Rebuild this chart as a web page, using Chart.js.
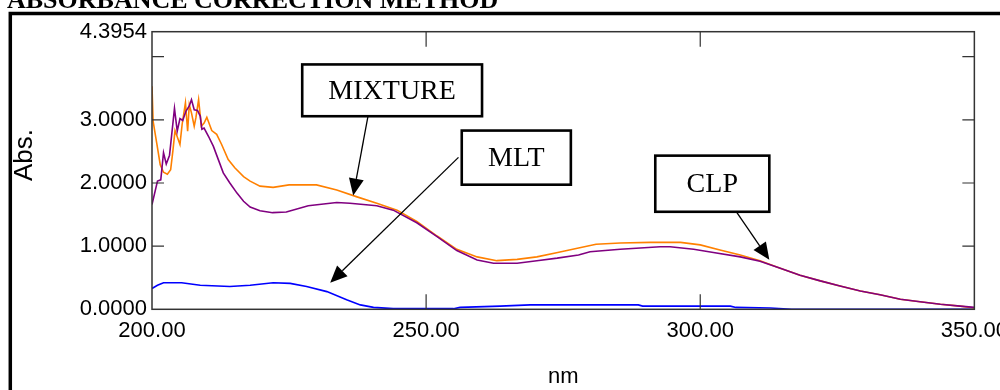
<!DOCTYPE html>
<html>
<head>
<meta charset="utf-8">
<script src="https://cdn.jsdelivr.net/npm/chart.js@4.4.1/dist/chart.umd.min.js"></script>
<style>
  html, body { margin: 0; padding: 0; background: #fff; overflow: hidden; }
  #wrap { width: 1000px; height: 390px; overflow: hidden; position: relative; }
  #spectra { position: absolute; left: 0; top: 0; }
</style>
</head>
<body>
<div id="wrap"><canvas id="spectra" width="1016" height="390"></canvas></div>
<script>
// overlay spectra: wavelength (nm) against absorbance
var mixNm = [200.0, 200.2, 200.9, 201.5, 202.1, 202.8, 203.4, 203.8, 204.2, 205.1, 205.5, 206.1, 206.5, 206.8,
  207.2, 207.7, 208.0, 208.5, 209.0, 209.5, 210.0, 210.9, 211.8, 212.7, 213.9, 215.1, 216.7, 217.9, 219.7,
  222.1, 225.0, 230.0, 233.7, 237.4, 241.0, 244.7, 248.3, 252.0, 255.6, 259.3, 262.9, 266.6, 270.2, 274.0,
  277.8, 281.0, 285.4, 290.9, 296.4, 300.0, 303.6, 307.3, 310.9, 314.6, 318.2, 321.9, 325.5, 329.2, 332.8,
  336.5, 340.1, 343.8, 347.4, 350.0];
var mixAbs = [3.53, 2.98, 2.61, 2.29, 2.17, 2.14, 2.21, 2.50, 2.83, 2.61, 2.93, 3.27, 2.82, 3.24,
  3.11, 2.90, 3.03, 3.32, 2.90, 2.95, 3.04, 2.83, 2.77, 2.61, 2.37, 2.24, 2.10, 2.03, 1.95,
  1.93, 1.97, 1.97, 1.89, 1.78, 1.68, 1.57, 1.39, 1.16, 0.95, 0.83, 0.77, 0.79, 0.83, 0.90,
  0.97, 1.03, 1.05, 1.06, 1.06, 1.02, 0.94, 0.86, 0.77, 0.65, 0.54, 0.45, 0.37, 0.29, 0.23,
  0.16, 0.12, 0.08, 0.05, 0.02];

var clpNm = [200.0, 201.0, 201.6, 202.1, 202.6, 203.2, 204.1, 204.6, 205.1, 205.6, 206.2, 206.8, 207.2, 207.7,
  208.3, 208.8, 209.1, 209.5, 210.3, 211.2, 212.1, 213.0, 214.2, 215.5, 216.7, 217.9, 219.7, 222.0, 224.5,
  228.5, 233.7, 236.1, 241.0, 244.0, 248.3, 252.0, 255.6, 259.3, 262.3, 266.6, 270.2, 273.9, 277.8, 279.9,
  285.4, 292.7, 294.5, 298.8, 302.4, 307.3, 310.9, 314.6, 318.2, 321.9, 325.5, 329.2, 332.8, 336.5, 340.1,
  343.8, 347.4, 350.0];
var clpAbs = [1.66, 2.03, 2.05, 2.48, 2.30, 2.44, 3.18, 2.82, 3.02, 2.99, 3.14, 3.22, 3.32, 3.16,
  3.15, 3.06, 2.85, 2.87, 2.74, 2.58, 2.37, 2.16, 2.00, 1.84, 1.71, 1.62, 1.56, 1.53, 1.54,
  1.64, 1.69, 1.68, 1.64, 1.57, 1.37, 1.15, 0.93, 0.78, 0.73, 0.73, 0.77, 0.81, 0.86, 0.91,
  0.95, 0.99, 0.99, 0.95, 0.90, 0.83, 0.76, 0.65, 0.54, 0.45, 0.37, 0.29, 0.23, 0.16, 0.12,
  0.08, 0.05, 0.03];

var mltNm = [200.0, 201.0, 202.1, 205.4, 208.8, 214.2, 217.9, 222.1, 225.2, 228.2, 231.9, 235.5, 238.0,
  240.4, 244.0, 255.0, 256.2, 263.5, 269.0, 288.7, 289.5, 305.5, 306.5, 312.8, 316.7, 350.0];
var mltAbs = [0.33, 0.38, 0.42, 0.42, 0.38, 0.36, 0.38, 0.42, 0.41, 0.36, 0.28, 0.15, 0.07,
  0.03, 0.01, 0.01, 0.03, 0.05, 0.07, 0.07, 0.05, 0.05, 0.03, 0.02, 0.00, 0.00];

var xTicks = [200, 250, 300, 350];
var xTickLabels = ['200.00', '250.00', '300.00', '350.00'];
var yTicks = [0, 1, 2, 3, 4, 4.3954];
var yTickLabels = ['0.0000', '1.0000', '2.0000', '3.0000', '', '4.3954'];

// callout boxes, placed in axis units (nm, Abs.)
var callouts = [
  { text: 'MIXTURE', box: [227.4, 3.877, 260.2, 3.057], from: [239.4, 3.057], to: [236.7, 1.80] },
  { text: 'MLT', box: [256.5, 2.830, 276.4, 1.973], from: [255.9, 2.406], to: [232.5, 0.422] },
  { text: 'CLP', box: [291.8, 2.433, 312.6, 1.544], from: [306.6, 1.544], to: [312.6, 0.783] }
];

function pairs(xs, ys) {
  return xs.map(function (x, i) { return { x: x, y: ys[i] }; });
}

var sansFont = { family: "'Liberation Sans', Arial, sans-serif", size: 22 };

function drawArrow(ctx, x1, y1, x2, y2) {
  var dx = x2 - x1, dy = y2 - y1;
  var len = Math.sqrt(dx * dx + dy * dy);
  var ux = dx / len, uy = dy / len;
  var headLen = 17, headHalf = 7.5;
  var bx = x2 - ux * headLen, by = y2 - uy * headLen;
  ctx.beginPath();
  ctx.moveTo(x1, y1);
  ctx.lineTo(bx, by);
  ctx.lineWidth = 1.3;
  ctx.strokeStyle = '#000';
  ctx.stroke();
  ctx.beginPath();
  ctx.moveTo(x2, y2);
  ctx.lineTo(bx - uy * headHalf, by + ux * headHalf);
  ctx.lineTo(bx + uy * headHalf, by - ux * headHalf);
  ctx.closePath();
  ctx.fillStyle = '#000';
  ctx.fill();
}

var framePlugin = {
  id: 'frame',
  beforeDraw: function (chart) {
    var ctx = chart.ctx;
    ctx.save();
    ctx.fillStyle = '#000';
    ctx.font = "bold 26px 'Liberation Serif', 'Times New Roman', serif";
    ctx.textBaseline = 'alphabetic';
    ctx.fillText('ABSORBANCE CORRECTION METHOD', 7, 8);
    ctx.lineWidth = 3.5;
    ctx.strokeStyle = '#000';
    ctx.strokeRect(10.3, 13.5, 1400, 800);
    // y-axis title
    ctx.translate(25, 155);
    ctx.rotate(-Math.PI / 2);
    ctx.font = "26px 'Liberation Sans', Arial, sans-serif";
    ctx.textAlign = 'center';
    ctx.textBaseline = 'middle';
    ctx.fillText('Abs.', 0, 0);
    ctx.restore();
  },
  afterDraw: function (chart) {
    var ctx = chart.ctx, a = chart.chartArea;
    var xs = chart.scales.x, ys = chart.scales.y;
    ctx.save();
    // plot box
    ctx.strokeStyle = '#333';
    ctx.lineWidth = 1.5;
    ctx.strokeRect(a.left, a.top, a.right - a.left, a.bottom - a.top);
    // inward tick marks
    ctx.beginPath();
    [1, 2, 3, 4].forEach(function (v) {
      var py = ys.getPixelForValue(v);
      ctx.moveTo(a.left, py); ctx.lineTo(a.left + 12, py);
      ctx.moveTo(a.right, py); ctx.lineTo(a.right - 12, py);
    });
    [250, 300].forEach(function (v) {
      var px = xs.getPixelForValue(v);
      ctx.moveTo(px, a.bottom); ctx.lineTo(px, a.bottom - 15);
      ctx.moveTo(px, a.top); ctx.lineTo(px, a.top + 15);
    });
    ctx.lineWidth = 1.2;
    ctx.stroke();
    // callouts
    callouts.forEach(function (c) {
      var x1 = xs.getPixelForValue(c.box[0]), y1 = ys.getPixelForValue(c.box[1]);
      var x2 = xs.getPixelForValue(c.box[2]), y2 = ys.getPixelForValue(c.box[3]);
      drawArrow(ctx, xs.getPixelForValue(c.from[0]), ys.getPixelForValue(c.from[1]),
        xs.getPixelForValue(c.to[0]), ys.getPixelForValue(c.to[1]));
      ctx.fillStyle = '#fff';
      ctx.fillRect(x1, y1, x2 - x1, y2 - y1);
      ctx.lineWidth = 2.6;
      ctx.strokeStyle = '#000';
      ctx.strokeRect(x1, y1, x2 - x1, y2 - y1);
      ctx.fillStyle = '#000';
      ctx.font = "28px 'Liberation Serif', 'Times New Roman', serif";
      ctx.textAlign = 'center';
      ctx.textBaseline = 'middle';
      ctx.fillText(c.text, (x1 + x2) / 2, (y1 + y2) / 2 + 1);
    });
    ctx.restore();
  }
};

var chart = new Chart(document.getElementById('spectra').getContext('2d'), {
  type: 'line',
  data: {
    datasets: [{
      label: 'CLP',
      data: pairs(clpNm, clpAbs),
      borderColor: '#800080',
      borderWidth: 1.6
    }, {
      label: 'MIXTURE',
      data: pairs(mixNm, mixAbs),
      borderColor: '#ff8000',
      borderWidth: 1.6
    }, {
      label: 'MLT',
      data: pairs(mltNm, mltAbs),
      borderColor: '#0000ff',
      borderWidth: 1.6
    }]
  },
  options: {
    responsive: false,
    animation: false,
    events: [],
    layout: { padding: { top: 31.7, left: 0, bottom: 0, right: 0 } },
    elements: {
      point: { radius: 0 },
      line: { tension: 0 }
    },
    plugins: {
      legend: { display: false },
      tooltip: { enabled: false }
    },
    scales: {
      x: {
        type: 'linear',
        min: 200,
        max: 350,
        afterBuildTicks: function (s) { s.ticks = xTicks.map(function (v) { return { value: v }; }); },
        afterFit: function (s) { s.height = 80.7; },
        grid: { display: false, drawTicks: false },
        border: { display: false },
        ticks: {
          autoSkip: false,
          maxRotation: 0,
          padding: 8,
          color: '#000',
          font: sansFont,
          callback: function (v, i) { return xTickLabels[i]; }
        },
        title: {
          display: true,
          text: 'nm',
          color: '#000',
          font: sansFont,
          padding: { top: 0, bottom: 0 }
        }
      },
      y: {
        min: 0,
        max: 4.3954,
        afterBuildTicks: function (s) { s.ticks = yTicks.map(function (v) { return { value: v }; }); },
        afterFit: function (s) { s.width = 152; },
        grid: { display: false, drawTicks: false },
        border: { display: false },
        ticks: {
          autoSkip: false,
          padding: 5,
          color: '#000',
          font: sansFont,
          callback: function (v, i) { return yTickLabels[i]; }
        }
      }
    }
  },
  plugins: [framePlugin]
});
</script>
</body>
</html>
